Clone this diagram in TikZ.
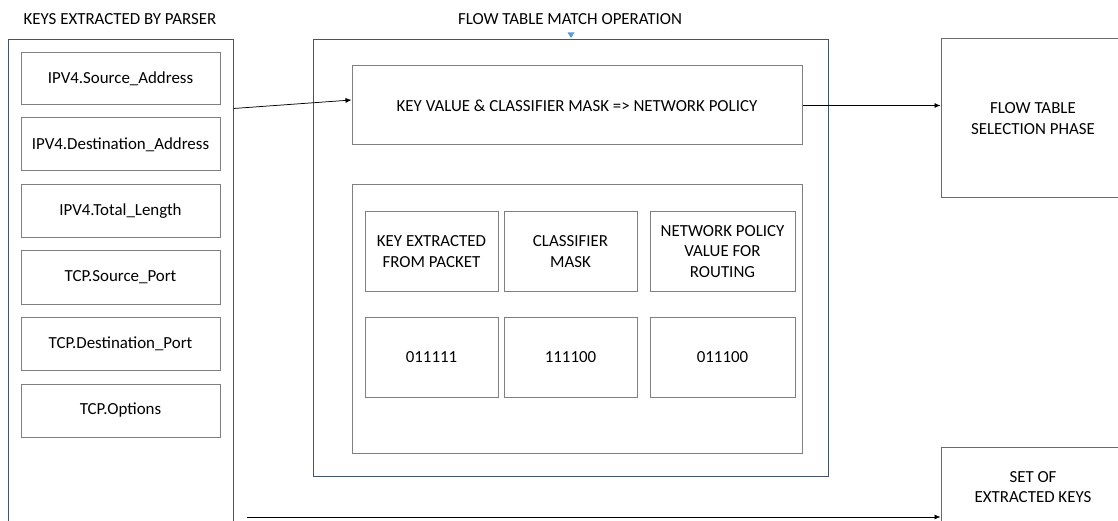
\documentclass[tikz,border=0pt]{standalone}
\usepackage{fontspec}
\setmainfont{Carlito}
\usetikzlibrary{arrows.meta,calc}
\definecolor{outerc}{HTML}{44546A}
\definecolor{innerc}{HTML}{808080}
\definecolor{rightc}{HTML}{6A6A6A}
\definecolor{tric}{HTML}{5B9BD5}
\tikzset{
  every node/.style={font=\fontsize{16.9}{20.5}\selectfont, inner sep=0pt, align=center},
  outerbox/.style={draw=outerc, line width=1pt},
  innerbox/.style={draw=innerc, line width=1pt},
  rightbox/.style={draw=rightc, line width=1pt},
  titletext/.style={},
  arr/.style={draw=black, line width=0.75pt, -{Latex[length=6pt,width=5pt]}},
}
\begin{document}
\begin{tikzpicture}[x=1pt,y=-1pt]
\clip (0,0) rectangle (1118,521);
\fill[white] (0,0) rectangle (1118,521);

% titles
\node[titletext] (t1) at (120,19) {KEYS EXTRACTED BY PARSER};
\node[titletext] (t2) at (570,19) {FLOW TABLE MATCH OPERATION};
\fill[tric] (567.5,32.5) -- (574.5,32.5) -- (571,38) -- cycle;

% left column
\node[outerbox, minimum width=225pt, minimum height=490pt] (lo) at (120.5,285) {};
\node[innerbox, minimum width=199pt, minimum height=52pt] (k1) at (120.5,79) {IPV4.Source\_Address};
\node[innerbox, minimum width=199pt, minimum height=53pt] (k2) at (120.5,144.5) {IPV4.Destination\_Address};
\node[innerbox, minimum width=199pt, minimum height=53pt] (k3) at (120.5,211.5) {IPV4.Total\_Length};
\node[innerbox, minimum width=199pt, minimum height=53pt] (k4) at (120.5,277.5) {TCP.Source\_Port};
\node[innerbox, minimum width=199pt, minimum height=53pt] (k5) at (120.5,343.5) {TCP.Destination\_Port};
\node[innerbox, minimum width=199pt, minimum height=53pt] (k6) at (120.5,410.5) {TCP.Options};

% middle
\node[outerbox, minimum width=515pt, minimum height=436pt] (mo) at (570.5,258) {};
\node[innerbox, minimum width=450pt, minimum height=79pt] (ti) at (577,105.5) {KEY VALUE \& CLASSIFIER MASK => NETWORK POLICY};
\node[innerbox, minimum width=450pt, minimum height=268pt] (li) at (577,319) {};
\node[innerbox, minimum width=133pt, minimum height=79pt] (c11) at (431.5,251.5) {KEY EXTRACTED\\FROM PACKET};
\node[innerbox, minimum width=133pt, minimum height=79pt] (c12) at (570.5,251.5) {CLASSIFIER\\MASK};
\node[innerbox, minimum width=145pt, minimum height=79pt] (c13) at (722.5,251.5) {NETWORK POLICY\\VALUE FOR\\ROUTING};
\node[innerbox, minimum width=133pt, minimum height=80pt] (c21) at (431.5,357) {011111};
\node[innerbox, minimum width=133pt, minimum height=80pt] (c22) at (570.5,357) {111100};
\node[innerbox, minimum width=145pt, minimum height=80pt] (c23) at (722.5,357) {011100};

% right
\node[rightbox, minimum width=184pt, minimum height=159pt] (r1) at (1033,118.5) {FLOW TABLE\\SELECTION PHASE};
\node[rightbox, minimum width=184pt, minimum height=153pt] (r2) at (1033,523.5) {};
\node (r2t) at (1033,487) {SET OF\\EXTRACTED KEYS};

% arrows
\draw[arr] ([yshift=-69pt]lo.north east) -- ([yshift=5.5pt]ti.west);
\draw[arr] (ti.east) -- (ti.east -| r1.west);
\coordinate (c3) at (247,517);
\draw[arr] (c3) -- (c3 -| r2.west);
\end{tikzpicture}
\end{document}
